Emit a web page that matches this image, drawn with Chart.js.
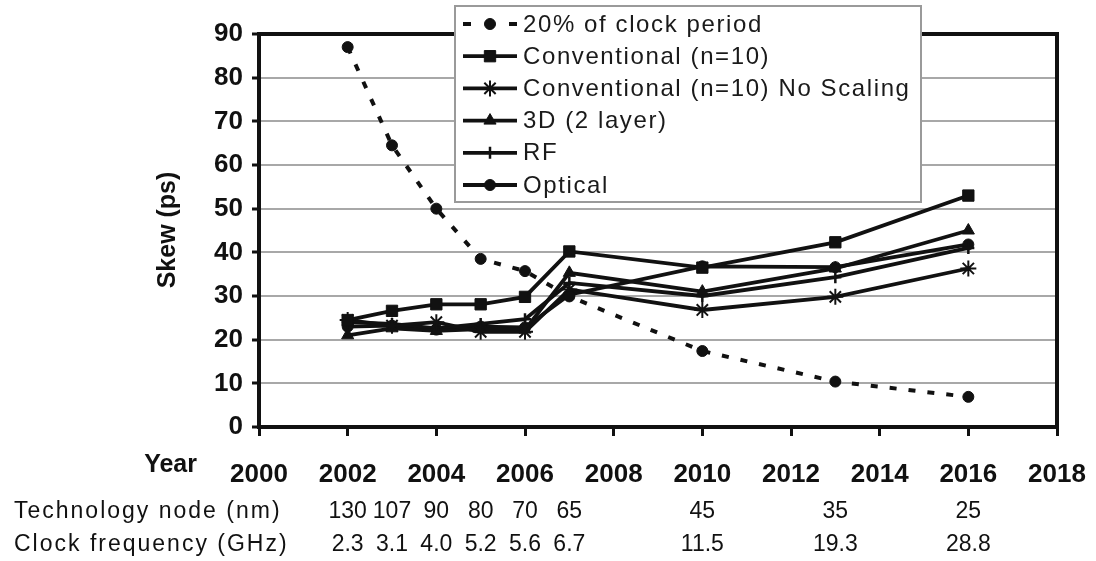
<!DOCTYPE html>
<html>
<head>
<meta charset="utf-8">
<script src="https://cdn.jsdelivr.net/npm/chart.js@4.4.0/dist/chart.umd.min.js"></script>
<style>
    html, body { margin: 0; padding: 0; background: #fff; }
    #wrap { width: 1096px; height: 561px; }
</style>
</head>
<body>
<div id="wrap"><canvas id="skewChart" width="1096" height="561"></canvas></div>
<script>
// years with a data point, shared by every series
const years = [2002, 2003, 2004, 2005, 2006, 2007, 2010, 2013, 2016];

// skew in ps
const clockPeriod20 = [87, 64.5, 50, 38.5, 35.7, 29.9, 17.4, 10.4, 6.9];
const conventional = [24.5, 26.6, 28.1, 28.1, 29.8, 40.2, 36.5, 42.3, 53];
const noScaling = [24.5, 23.2, 24, 21.8, 21.8, 31.5, 26.8, 29.8, 36.3];
const threeD = [21, 22.6, 22, 22.4, 22.3, 35.3, 31, 36.3, 45];
const rf = [24, 23.6, 22.6, 23.6, 24.7, 33, 30, 34.3, 41];
const optical = [23, 23.2, 22.3, 23, 22.8, 30.3, 36.8, 36.6, 41.8];

// table rows under the x axis
const techNodes = ['130', '107', '90', '80', '70', '65', '45', '35', '25'];
const clockFreqs = ['2.3', '3.1', '4.0', '5.2', '5.6', '6.7', '11.5', '19.3', '28.8'];

const FONT = '"Liberation Sans", Arial, sans-serif';
const INK = '#111';

function pts(values) {
    return values.map((v, i) => ({ x: years[i], y: v }));
}

function series(label, values, style, radius, extra) {
    return Object.assign({
        label: label,
        data: pts(values),
        borderColor: INK,
        backgroundColor: INK,
        borderWidth: 3.8,
        pointStyle: style,
        pointRadius: radius,
        pointBackgroundColor: INK,
        pointBorderColor: INK,
        pointBorderWidth: 1,
        tension: 0
    }, extra || {});
}

const datasets = [
    series('20% of clock period', clockPeriod20, 'circle', 5.5, { borderDash: [7, 12], borderWidth: 4 }),
    series('Conventional (n=10)', conventional, 'rect', 8),
    series('Conventional (n=10) No Scaling', noScaling, 'star', 8, { pointBorderWidth: 2 }),
    series('3D (2 layer)', threeD, 'triangle', 7),
    series('RF', rf, 'cross', 6, { pointBorderWidth: 2.5 }),
    series('Optical', optical, 'circle', 5.5)
];

const figurePlugin = {
    id: 'figureExtras',
    beforeDatasetsDraw(chart) {
        const { ctx, chartArea: a } = chart;
        ctx.save();
        ctx.strokeStyle = INK;
        ctx.lineWidth = 4;
        ctx.strokeRect(a.left, a.top, a.right - a.left, a.bottom - a.top);
        ctx.restore();
    },
    afterDraw(chart) {
        const { ctx } = chart;
        const xs = chart.scales.x;
        ctx.save();
        ctx.fillStyle = INK;

        // y axis title
        ctx.save();
        ctx.translate(168, 230);
        ctx.rotate(-Math.PI / 2);
        ctx.font = 'bold 25px ' + FONT;
        ctx.textAlign = 'center';
        ctx.textBaseline = 'middle';
        ctx.fillText('Skew (ps)', 0, 0);
        ctx.restore();

        // "Year" label left of the year ticks
        ctx.font = 'bold 25px ' + FONT;
        ctx.textAlign = 'right';
        ctx.textBaseline = 'middle';
        ctx.fillText('Year', 197, 465);

        // technology / frequency rows
        ctx.font = '23px ' + FONT;
        ctx.letterSpacing = '2px';
        ctx.textAlign = 'left';
        ctx.fillText('Technology node (nm)', 14, 512);
        ctx.fillText('Clock frequency (GHz)', 14, 545);
        ctx.letterSpacing = '0px';
        ctx.textAlign = 'center';
        years.forEach((yr, i) => {
            const x = xs.getPixelForValue(yr);
            ctx.fillText(techNodes[i], x, 512);
            ctx.fillText(clockFreqs[i], x, 545);
        });

        // legend box
        const box = { left: 455, top: 6, right: 921, bottom: 202 };
        ctx.fillStyle = '#fff';
        ctx.fillRect(box.left, box.top, box.right - box.left, box.bottom - box.top);
        ctx.strokeStyle = '#9a9a9a';
        ctx.lineWidth = 2;
        ctx.strokeRect(box.left, box.top, box.right - box.left, box.bottom - box.top);

        ctx.font = '24px ' + FONT;
        ctx.letterSpacing = '1.6px';
        ctx.textAlign = 'left';
        ctx.textBaseline = 'middle';
        chart.data.datasets.forEach((ds, i) => {
            const y = 24 + i * 32.2;
            ctx.strokeStyle = INK;
            ctx.lineWidth = ds.borderWidth;
            ctx.setLineDash(ds.borderDash ? [8, 38] : []);
            ctx.beginPath();
            ctx.moveTo(463, y);
            ctx.lineTo(517, y);
            ctx.stroke();
            ctx.setLineDash([]);

            ctx.fillStyle = INK;
            ctx.lineWidth = ds.pointBorderWidth;
            if (Chart.helpers && Chart.helpers.drawPoint) {
                Chart.helpers.drawPoint(ctx, {
                    pointStyle: ds.pointStyle,
                    radius: ds.pointRadius,
                    rotation: 0,
                    borderWidth: ds.pointBorderWidth
                }, 490, y);
            }
            ctx.fillStyle = '#1a1a1a';
            ctx.fillText(ds.label, 523, y + 1);
        });
        ctx.letterSpacing = '0px';
        ctx.restore();
    }
};

const ctx = document.getElementById('skewChart').getContext('2d');
const skewChart = new Chart(ctx, {
    type: 'line',
    data: { datasets: datasets },
    options: {
        responsive: false,
        animation: false,
        devicePixelRatio: 1,
        layout: { padding: { left: 0, top: 34, right: 39, bottom: 74 } },
        plugins: {
            legend: { display: false },
            tooltip: { enabled: false }
        },
        scales: {
            x: {
                type: 'linear',
                min: 2000,
                max: 2018,
                afterFit: function(scale) {
                    scale.height = 60;
                    scale.paddingLeft = 0;
                    scale.paddingRight = 0;
                },
                ticks: {
                    stepSize: 2,
                    color: INK,
                    padding: 23,
                    font: { family: FONT, size: 26, weight: 'bold' },
                    callback: function(value) { return String(value); }
                },
                grid: {
                    drawOnChartArea: false,
                    drawTicks: true,
                    tickLength: 9,
                    tickColor: INK,
                    tickWidth: 3
                },
                border: { display: false }
            },
            y: {
                min: 0,
                max: 90,
                afterFit: function(scale) {
                    scale.width = 259;
                    scale.paddingTop = 0;
                    scale.paddingBottom = 0;
                },
                ticks: {
                    stepSize: 10,
                    color: INK,
                    padding: 9,
                    font: { family: FONT, size: 26, weight: 'bold' }
                },
                grid: {
                    color: '#a8a8a8',
                    lineWidth: 2,
                    drawTicks: true,
                    tickLength: 7,
                    tickColor: INK,
                    tickWidth: 3
                },
                border: { display: false }
            }
        }
    },
    plugins: [figurePlugin]
});
</script>
</body>
</html>
